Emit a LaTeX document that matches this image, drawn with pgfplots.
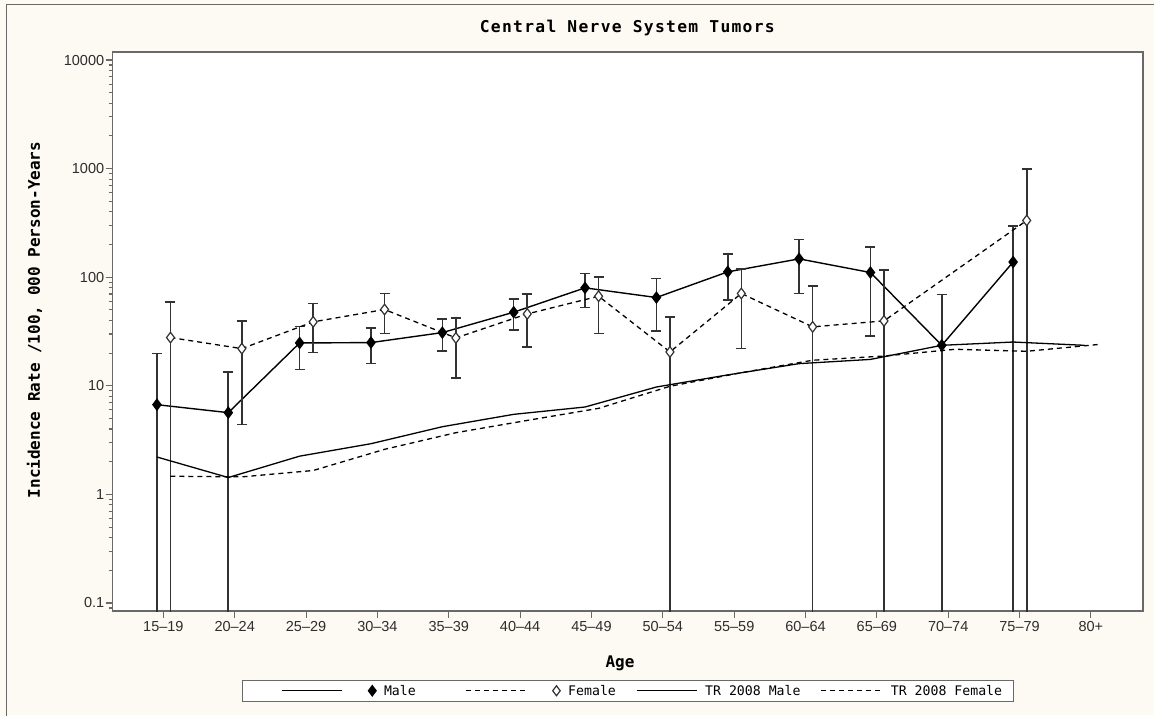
\documentclass[border=0pt]{standalone}
\usepackage{pgfplots}
\pgfplotsset{compat=1.18}
\usepackage{pgfplotstable}
\usepackage{fontspec}
\setmainfont{Liberation Sans}
\newfontfamily\monofont{DejaVu Sans Mono}
\newfontfamily\titlefont[LetterSpace=8]{DejaVu Sans Mono}

\definecolor{paper}{RGB}{252,250,243}
\definecolor{axisgray}{RGB}{105,105,105}
\definecolor{bargray}{RGB}{50,50,50}
\definecolor{ticktext}{RGB}{45,45,45}

% rate, lower and upper 95% limit (lower limit 0.01 = below the axis)
\pgfplotstableread{
x     y     lo    hi
-0.09 6.7   0.01  19.8
0.91  5.66  0.01  13.4
1.91  24.8  14.1  35.3
2.91  25.0  16.0  34.1
3.91  30.9  20.9  41.0
4.91  47.6  32.5  62.7
5.91  79.8  52.5  108
6.91  65.0  32.1  97.2
7.91  112   61.4  163
8.91  147.5 70.8  223
9.91  110.5 28.6  190
10.91 23.6  0.01  69.3
11.91 138   0.01  297
}\male

\pgfplotstableread{
x     y     lo    hi
0.10  27.8  0.01  59.3
1.10  22.0  4.39  39.6
2.10  38.8  20.2  57.3
3.10  50.4  30.3  70.8
4.10  27.6  11.8  42.2
5.10  45.9  22.8  69.7
6.10  66.8  30.3  101
7.10  20.5  0.01  43.1
8.10  70.8  22.0  118.6
9.10  34.9  0.01  82.6
10.10 39.6  0.01  116
12.10 333   0.01  990
}\female

\pgfplotstableread{
x     y
-0.09 2.21
0.91  1.43
1.91  2.25
2.91  2.93
3.91  4.2
4.91  5.46
5.91  6.38
6.91  9.75
7.91  12.6
8.91  16.0
9.91  17.5
10.91 23.6
11.91 25.3
12.91 23.6
}\trmale

\pgfplotstableread{
x     y
0.10  1.47
1.10  1.45
2.10  1.66
3.10  2.6
4.10  3.7
5.10  4.8
6.10  6.2
7.10  9.9
8.10  13.2
9.10  17.2
10.10 18.8
11.10 21.7
12.10 20.8
13.10 24.0
}\trfemale

\begin{document}
\begin{tikzpicture}
\useasboundingbox (0pt,0pt) rectangle (1154pt,715pt);
\fill[paper] (0pt,0pt) rectangle (1154pt,715pt);
\draw[axisgray, line width=1pt] (6.5pt,-5pt) -- (6.5pt,710pt) -- (1160pt,710pt);
\begin{axis}[
  at={(112.7pt,104pt)}, anchor=south west,
  scale only axis, width=1030.3pt, height=559pt,
  ymode=log, ymin=0.0844, ymax=11852,
  xmin=-0.71, xmax=13.73,
  axis background/.style={fill=white},
  axis line style={axisgray, line width=1.4pt},
  tick style={axisgray, line width=1.1pt},
  tick align=outside, tick pos=left,
  major tick length=7pt, minor tick length=4pt,
  xtick={0,1,2,3,4,5,6,7,8,9,10,11,12,13},
  xticklabels={15–19,20–24,25–29,30–34,35–39,40–44,45–49,50–54,55–59,60–64,65–69,70–74,75–79,80+},
  ytick={0.1,1,10,100,1000,10000},
  yticklabels={0.1,1,10,100,1000,10000},
  minor ytick={0.09,0.2,0.3,0.4,0.5,0.6,0.7,0.8,0.9,2,3,4,5,6,7,8,9,20,30,40,50,60,70,80,90,200,300,400,500,600,700,800,900,2000,3000,4000,5000,6000,7000,8000,9000},
  xticklabel style={font=\fontsize{14.5}{16}\selectfont, text=ticktext},
  yticklabel style={font=\fontsize{14.5}{16}\selectfont, text=ticktext, xshift=2pt},
  title={\titlefont\bfseries Central Nerve System Tumors},
  title style={at={(axis description cs:0.4995,1.025)}, anchor=base, font=\fontsize{16.3}{18}\selectfont},
  xlabel={\monofont\bfseries Age},
  xlabel style={at={(axis description cs:0.4924,-0.0935)}, anchor=center, font=\fontsize{16}{18}\selectfont},
  ylabel={\monofont\bfseries Incidence Rate /100, 000 Person-Years},
  ylabel style={at={(axis description cs:-0.0706,0.5206)}, anchor=base, font=\fontsize{16}{18}\selectfont},
  legend columns=4,
  legend style={at={(axis description cs:0.5,-0.1426)}, anchor=center,
    draw=axisgray, line width=0.9pt, fill=white,
    font=\monofont\fontsize{13.2}{15}\selectfont,
    inner xsep=9pt, inner ysep=2.5pt,
    /tikz/every odd column/.append style={column sep=6pt},
    /tikz/every even column/.append style={column sep=18pt}},
  error bars/y dir=both, error bars/y explicit,
  error bars/error bar style={bargray, line width=1.6pt, solid},
  error bars/error mark options={rotate=90, bargray, mark size=5pt, line width=1.6pt, solid},
]
\addplot[black, line width=1.4pt, mark=diamond*, mark size=5.3pt,
  mark options={solid, fill=black, draw=black},
  legend image code/.code={
    \path (-30pt,0pt);
    \draw[black, line width=1.4pt] (0pt,0pt) -- (60pt,0pt);
    \draw[black, mark=diamond*, mark size=5pt, mark options={fill=black}] plot coordinates {(90pt,0pt)};
  }]
  table[x=x, y=y, y error plus expr=\thisrow{hi}-\thisrow{y}, y error minus expr=\thisrow{y}-\thisrow{lo}] {\male};
\addlegendentry{Male}
\addplot[black, line width=1.3pt, dash pattern=on 5pt off 4pt, mark=diamond*, mark size=5.3pt,
  mark options={solid, fill=white, draw=bargray, line width=1.2pt},
  legend image code/.code={
    \path (-30pt,0pt);
    \draw[black, line width=1.3pt, dash pattern=on 5pt off 4pt] (0pt,0pt) -- (60pt,0pt);
    \draw[bargray, line width=1.2pt, mark=diamond*, mark size=5pt, mark options={fill=white, solid}] plot coordinates {(90pt,0pt)};
  }]
  table[x=x, y=y, y error plus expr=\thisrow{hi}-\thisrow{y}, y error minus expr=\thisrow{y}-\thisrow{lo}] {\female};
\addlegendentry{Female}
\addplot[black, line width=1.3pt, no markers, error bars/y dir=none,
  legend image code/.code={
    \draw[black, line width=1.3pt] (0pt,0pt) -- (60pt,0pt);
  }]
  table[x=x, y=y] {\trmale};
\addlegendentry{TR 2008 Male}
\addplot[black, line width=1.3pt, dash pattern=on 5pt off 4pt, no markers, error bars/y dir=none,
  legend image code/.code={
    \draw[black, line width=1.3pt, dash pattern=on 5pt off 4pt] (0pt,0pt) -- (61pt,0pt);
  }]
  table[x=x, y=y] {\trfemale};
\addlegendentry{TR 2008 Female}
\end{axis}
\end{tikzpicture}
\end{document}
